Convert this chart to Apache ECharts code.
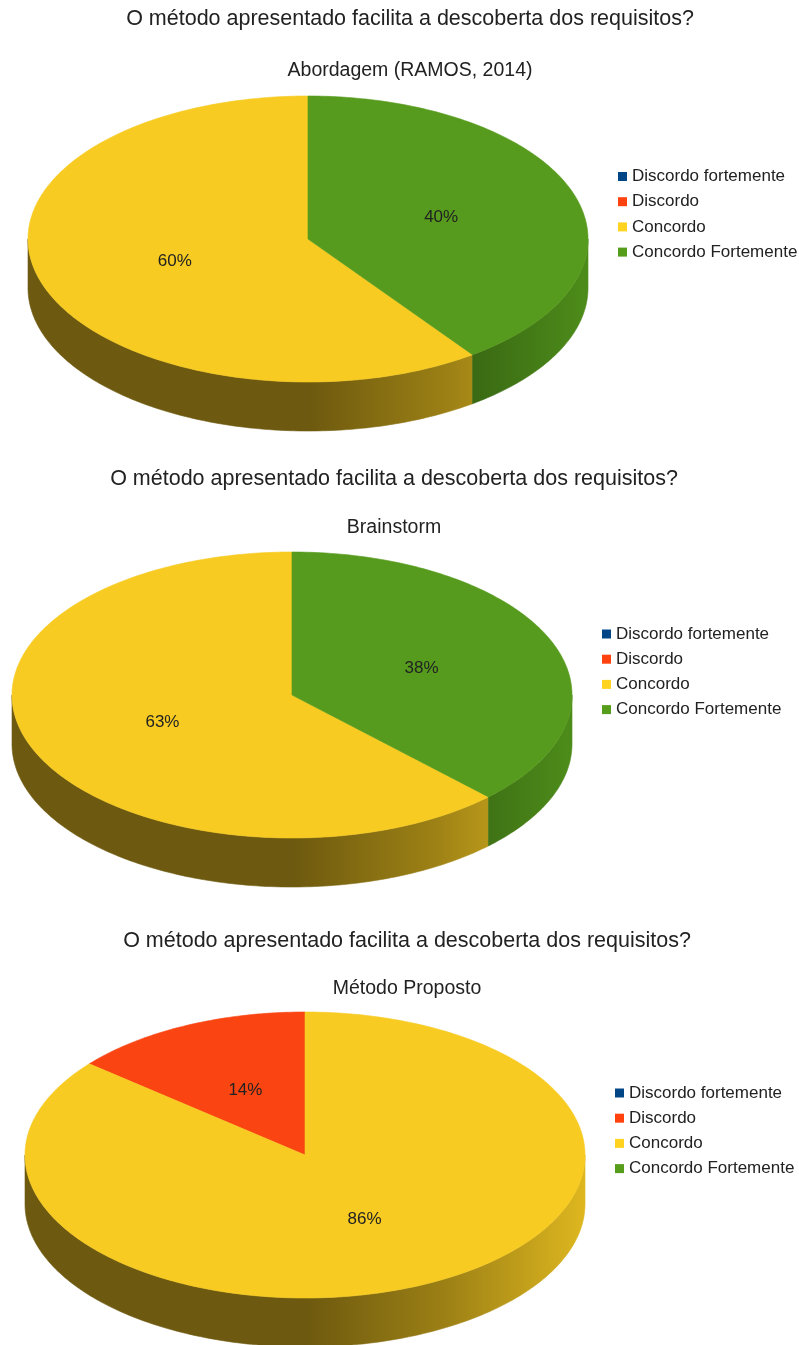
<!DOCTYPE html>
<html><head><meta charset="utf-8">
<script src="https://cdn.jsdelivr.net/npm/echarts@6/dist/echarts.min.js"></script>
<style>html,body{margin:0;padding:0;background:#fff}#main{width:799px;height:1345px}</style>
</head><body><div id="main"></div>
<script>
// ---- data ----
const categories = ['Discordo fortemente', 'Discordo', 'Concordo', 'Concordo Fortemente'];
const mainTitle = 'O método apresentado facilita a descoberta dos requisitos?';
const subTitles = ['Abordagem (RAMOS, 2014)', 'Brainstorm', 'Método Proposto'];
const valuesRamos = [0, 0, 60, 40];
const valuesBrainstorm = [0, 0, 63, 38];
const valuesProposto = [0, 14, 86, 0];
const chartValues = [valuesRamos, valuesBrainstorm, valuesProposto];

// ---- style / layout ----
const legendColors = ['#004586', '#ff420e', '#ffd320', '#579d1c'];
const topColors = ['#03437f', '#fa4512', '#f7cb22', '#569b1d'];
const FONT = '"Liberation Sans", Arial, sans-serif';
const layouts = [
  {cx: 308, cy: 239, rx: 280, ry: 143, depth: 49, titleY: 8, subY: 61, legX: 618, legY: 168},
  {cx: 292, cy: 695, rx: 280, ry: 143, depth: 49, titleY: 468, subY: 518, legX: 602, legY: 625.5},
  {cx: 305, cy: 1155, rx: 280, ry: 143, depth: 49, titleY: 930, subY: 979, legX: 615, legY: 1084.5}
];

function shade(hex, f) {
  const n = parseInt(hex.slice(1), 16);
  const r = Math.round(((n >> 16) & 255) * f), g = Math.round(((n >> 8) & 255) * f), b = Math.round((n & 255) * f);
  return 'rgb(' + r + ',' + g + ',' + b + ')';
}

// slices run counter-clockwise from 12 o'clock; angles expressed clockwise from top
function sliceAngles(vals) {
  const total = vals.reduce((a, b) => a + b, 0);
  let cum = 0;
  return vals.map(v => {
    const c0 = cum / total * 360; cum += v; const c1 = cum / total * 360;
    return [360 - c1, 360 - c0, v];
  });
}

function makeRenderItem(L, ci) {
  return function (params, api) {
    const a0 = api.value(0), a1 = api.value(1), v = api.value(2);
    if (!(a1 > a0) || !v) return null;
    const base = topColors[ci];
    const pt = (deg, dy) => {
      const r = deg * Math.PI / 180;
      return [L.cx + L.rx * Math.sin(r), L.cy - L.ry * Math.cos(r) + (dy || 0)];
    };
    const children = [];
    const s = Math.max(a0, 90), e = Math.min(a1, 270);
    if (e > s) {
      const pts = [];
      const n = Math.max(2, Math.ceil(e - s));
      for (let i = 0; i <= n; i++) pts.push(pt(s + (e - s) * i / n));
      for (let i = n; i >= 0; i--) pts.push(pt(s + (e - s) * i / n, L.depth));
      const grad = {
        type: 'linear', x: L.cx - L.rx, y: 0, x2: L.cx + L.rx, y2: 0, global: true,
        colorStops: [
          {offset: 0, color: shade(base, 0.44)},
          {offset: 0.5, color: shade(base, 0.44)},
          {offset: 0.75, color: shade(base, 0.63)},
          {offset: 1, color: shade(base, 0.9)}
        ]
      };
      children.push({type: 'polygon', shape: {points: pts}, style: {fill: grad, stroke: grad, lineWidth: 0.6}});
    }
    const tp = [[L.cx, L.cy]];
    const n2 = Math.max(2, Math.ceil(a1 - a0));
    for (let i = 0; i <= n2; i++) tp.push(pt(a0 + (a1 - a0) * i / n2));
    children.push({type: 'polygon', shape: {points: tp}, style: {fill: base, stroke: base, lineWidth: 0.6}});
    const m = (a0 + a1) / 2 * Math.PI / 180;
    children.push({
      type: 'text', x: L.cx + 0.5 * L.rx * Math.sin(m), y: L.cy - 0.5 * L.ry * Math.cos(m),
      style: {text: v + '%', fill: '#222', font: '17px ' + FONT, align: 'center', verticalAlign: 'middle',
              textAlign: 'center', textVerticalAlign: 'middle'}
    });
    return {type: 'group', children: children};
  };
}

const titles = [], legends = [], series = [];
layouts.forEach((L, k) => {
  const tc = L.cx + 102;
  titles.push({text: mainTitle, left: tc, top: L.titleY, textAlign: 'center', padding: 0,
    textStyle: {fontSize: 21.5, fontWeight: 'normal', color: '#222', fontFamily: FONT, lineHeight: 22}});
  titles.push({text: subTitles[k], left: tc, top: L.subY, textAlign: 'center', padding: 0,
    textStyle: {fontSize: 19.5, fontWeight: 'normal', color: '#222', fontFamily: FONT, lineHeight: 20}});
  legends.push({
    data: categories.map(n => ({name: n, icon: 'rect'})), orient: 'vertical', left: L.legX, top: L.legY,
    itemWidth: 9, itemHeight: 9, itemGap: 8.2, padding: 0, selectedMode: false,
    textStyle: {fontSize: 17, lineHeight: 17, color: '#222', fontFamily: FONT}
  });
  const ang = sliceAngles(chartValues[k]);
  categories.forEach((name, i) => {
    series.push({
      type: 'custom', name: name, coordinateSystem: 'none', silent: true, animation: false,
      itemStyle: {color: legendColors[i]},
      data: [ang[i]],
      renderItem: makeRenderItem(L, i)
    });
  });
});

const chart = echarts.init(document.getElementById('main'), null, {renderer: 'canvas'});
chart.setOption({backgroundColor: '#ffffff', animation: false, title: titles, legend: legends, series: series});
</script>
</body></html>
